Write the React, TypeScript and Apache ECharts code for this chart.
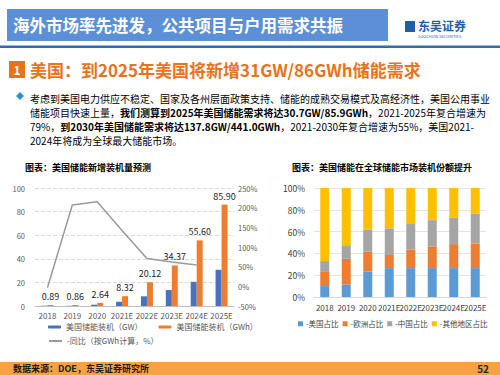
import React, { useEffect, useRef } from 'react';
import * as echarts from 'echarts';

const years = ['2018', '2019', '2020', '2021E', '2022E', '2023E', '2024E', '2025E'];
const gwValues = [0.25, 0.2, 1.1, 3.6, 8.2, 13.5, 20.5, 30.7];
const gwhValues = [0.89, 0.86, 2.64, 8.32, 20.12, 34.37, 55.6, 85.9];
const yoyValues = [-3.4, 207, 215, 142, 71, 62, 54, null];

const usShare = [10, 11.5, 23.5, 26.5, 26.5, 26.5, 26.5, 26.5];
const euShare = [13, 23.5, 18, 12, 17, 20, 22, 22.5];
const cnShare = [10, 12.5, 20.5, 24.5, 23.5, 24, 24.5, 27.5];
const otherShare = [67, 52.5, 38, 37, 33, 29.5, 27, 23.5];

const headerTitle = '海外市场率先进发，公共项目与户用需求共振';
const sectionTitle = '美国：到2025年美国将新增31GW/86GWh储能需求';
const leftTitle = '图表：美国储能新增装机量预测';
const rightTitle = '图表：美国储能在全球储能市场装机份额提升';
const sourceText = '数据来源：DOE，东吴证券研究所';
const pageNo = '52';

const FONT = "'Noto Sans CJK SC', 'Noto Sans', sans-serif";

export default function App() {
  const ref = useRef<HTMLDivElement>(null);
  useEffect(() => {
    if (!ref.current) return;
    const chart = echarts.init(ref.current, undefined, { renderer: 'svg' });
    const bodyRich = {
      n: { fontSize: 10, fontFamily: FONT, color: '#262626' },
      b: { fontSize: 10, fontFamily: FONT, color: '#000', fontWeight: 'bold' },
    };
    const option: any = {
      animation: false,
      textStyle: { fontFamily: FONT },
      graphic: [
        { type: 'rect', shape: { x: 7, y: 9, width: 381, height: 32 }, style: { fill: '#5B8FD7' } },
        { type: 'text', x: 13, y: 25, style: { text: headerTitle, fill: '#fff', fontSize: 16.5, fontWeight: 'bold', fontFamily: FONT, verticalAlign: 'middle' } },
        { type: 'rect', shape: { x: 405, y: 21, width: 10, height: 11 }, style: { fill: '#1F5FA8' } },
        { type: 'text', x: 418, y: 25, style: { text: '东吴证券', fill: '#1F5FA8', fontSize: 12, fontWeight: 'bold', fontFamily: FONT, verticalAlign: 'middle' } },
        { type: 'text', x: 418, y: 36, style: { text: 'SOOCHOW SECURITIES', fill: '#1F5FA8', fontSize: 4, fontFamily: FONT, verticalAlign: 'middle' } },
        { type: 'rect', shape: { x: 0, y: 45.5, width: 500, height: 2.5 }, style: { fill: '#2E6DB4' } },
        { type: 'rect', shape: { x: 9, y: 61, width: 16, height: 17 }, style: { fill: '#E8731A' } },
        { type: 'text', x: 17, y: 69.5, style: { text: '1', fill: '#fff', fontSize: 12, fontWeight: 'bold', fontFamily: FONT, align: 'center', verticalAlign: 'middle' } },
        { type: 'text', x: 30, y: 69.5, style: { text: sectionTitle, fill: '#E8731A', fontSize: 17, fontWeight: 'bold', fontFamily: FONT, verticalAlign: 'middle' } },
        { type: 'polygon', shape: { points: [[20, 92], [24, 96], [20, 100], [16, 96]] }, style: { fill: '#2E8FD0' } },
        { type: 'text', x: 30, y: 98, style: { text: '{n|考虑到美国电力供应不稳定、国家及各州层面政策支持、储能的成熟交易模式及高经济性，美国公用事业}', rich: bodyRich, verticalAlign: 'middle' } },
        { type: 'text', x: 30, y: 112, style: { text: '{n|储能项目快速上量，}{b|我们测算到2025年美国储能需求将达30.7GW/85.9GWh}{n|，2021-2025年复合增速为}', rich: bodyRich, verticalAlign: 'middle' } },
        { type: 'text', x: 30, y: 126, style: { text: '{n|79%，}{b|到2030年美国储能需求将达137.8GW/441.0GWh}{n|，2021-2030年复合增速为55%，美国2021-}', rich: bodyRich, verticalAlign: 'middle' } },
        { type: 'text', x: 30, y: 140, style: { text: '{n|2024年将成为全球最大储能市场。}', rich: bodyRich, verticalAlign: 'middle' } },
        { type: 'text', x: 25, y: 167, style: { text: leftTitle, fill: '#000', fontSize: 9, fontWeight: 'bold', fontFamily: FONT, verticalAlign: 'middle' } },
        { type: 'text', x: 292, y: 167, style: { text: rightTitle, fill: '#000', fontSize: 9, fontWeight: 'bold', fontFamily: FONT, verticalAlign: 'middle' } },
        { type: 'rect', shape: { x: 0, y: 362, width: 500, height: 13 }, style: { fill: '#F5A247' } },
        { type: 'text', x: 13, y: 368.5, style: { text: sourceText, fill: '#1a1a1a', fontSize: 9, fontWeight: 'bold', fontFamily: FONT, verticalAlign: 'middle' } },
        { type: 'text', x: 489, y: 368.5, style: { text: pageNo, fill: '#262626', fontSize: 10, fontWeight: 'bold', fontFamily: FONT, align: 'right', verticalAlign: 'middle' } },
      ],
      legend: [
        {
          data: ['美国储能装机（GW）', '美国储能装机（GWh）'],
          left: 48, top: 323, padding: 0, itemWidth: 13, itemHeight: 3, itemGap: 16,
          textStyle: { fontSize: 8, color: '#595959', fontFamily: FONT },
        },
        {
          data: ['-同比（按GWh计算，%）'],
          left: 48, top: 337, padding: 0, itemWidth: 13, itemHeight: 3,
          textStyle: { fontSize: 8, color: '#595959', fontFamily: FONT },
        },
        {
          data: ['-美国占比', '-欧洲占比', '-中国占比', '-其他地区占比'],
          left: 298, top: 320, padding: 0, width: 202, itemWidth: 5, itemHeight: 5, itemGap: 4, icon: 'rect',
          textStyle: { fontSize: 7.5, color: '#404040', fontFamily: FONT, padding: [0, 0, 0, -2] },
        },
      ],
      grid: [
        { left: 35, right: 266, top: 188, bottom: 69 },
        { left: 314, right: 14, top: 188, bottom: 78 },
      ],
      xAxis: [
        {
          gridIndex: 0, type: 'category', data: years,
          axisTick: { show: false },
          axisLine: { lineStyle: { color: '#BFBFBF' } },
          axisLabel: { fontSize: 8, color: '#595959', interval: 0, margin: 5 },
        },
        {
          gridIndex: 1, type: 'category', data: years,
          axisTick: { show: false },
          axisLine: { lineStyle: { color: '#D9D9D9' } },
          axisLabel: { fontSize: 8, color: '#404040', interval: 0, margin: 6 },
        },
      ],
      yAxis: [
        {
          gridIndex: 0, type: 'value', min: 0, max: 100, interval: 20,
          axisLabel: { fontSize: 7.5, color: '#595959', margin: 10 },
          axisLine: { show: false }, axisTick: { show: false },
          splitLine: { lineStyle: { color: '#D9D9D9', type: 'dashed' } },
        },
        {
          gridIndex: 0, type: 'value', min: -50, max: 250, interval: 50, position: 'right',
          axisLabel: { fontSize: 7.5, color: '#595959', margin: 4, formatter: '{value}%' },
          axisLine: { show: false }, axisTick: { show: false },
          splitLine: { show: false },
        },
        {
          gridIndex: 1, type: 'value', min: 0, max: 100, interval: 20,
          axisLabel: { fontSize: 8.5, color: '#404040', margin: 9, formatter: '{value}%' },
          axisLine: { show: false }, axisTick: { show: false },
          splitLine: { lineStyle: { color: '#E3E3E3' } },
        },
      ],
      series: [
        {
          name: '美国储能装机（GW）', type: 'bar', xAxisIndex: 0, yAxisIndex: 0,
          data: gwValues, barWidth: 6, barGap: '0%', itemStyle: { color: '#4472C4' },
        },
        {
          name: '美国储能装机（GWh）', type: 'bar', xAxisIndex: 0, yAxisIndex: 0,
          data: gwhValues, barWidth: 6, barGap: '0%', itemStyle: { color: '#ED7D31' },
          label: { show: true, position: 'top', fontSize: 9, color: '#262626', formatter: (p: any) => p.value.toFixed(2), distance: 4 },
        },
        {
          name: '-同比（按GWh计算，%）', type: 'line', xAxisIndex: 0, yAxisIndex: 1,
          data: yoyValues, symbol: 'none', lineStyle: { color: '#9A9A9A', width: 1.5 }, itemStyle: { color: '#9A9A9A' },
        },
        { name: '-美国占比', type: 'bar', stack: 's', xAxisIndex: 1, yAxisIndex: 2, data: usShare, barWidth: 9, itemStyle: { color: '#5B9BD5' } },
        { name: '-欧洲占比', type: 'bar', stack: 's', xAxisIndex: 1, yAxisIndex: 2, data: euShare, barWidth: 9, itemStyle: { color: '#ED7D31' } },
        { name: '-中国占比', type: 'bar', stack: 's', xAxisIndex: 1, yAxisIndex: 2, data: cnShare, barWidth: 9, itemStyle: { color: '#A5A5A5' } },
        { name: '-其他地区占比', type: 'bar', stack: 's', xAxisIndex: 1, yAxisIndex: 2, data: otherShare, barWidth: 9, itemStyle: { color: '#FFC000' } },
      ],
    };
    chart.setOption(option);
    return () => chart.dispose();
  }, []);
  return (
    <div
      ref={ref}
      style={{ position: 'fixed', left: 0, top: 0, width: 500, height: 375, background: '#fff' }}
    />
  );
}
